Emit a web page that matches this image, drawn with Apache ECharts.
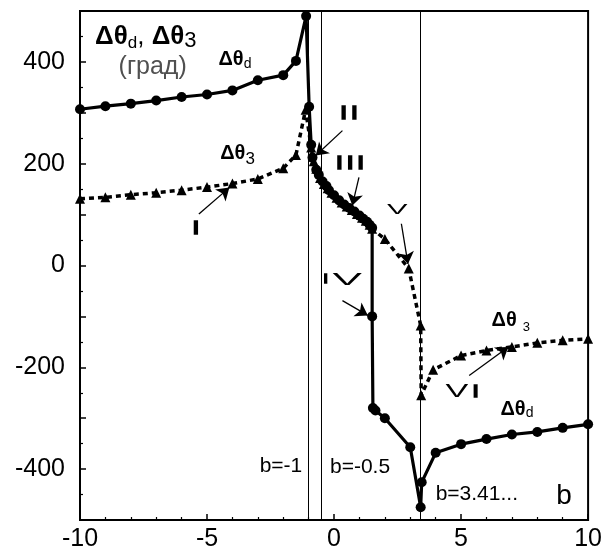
<!DOCTYPE html>
<html>
<head>
<meta charset="utf-8">
<title>delta theta vs b</title>
<script src="https://cdn.jsdelivr.net/npm/echarts@6/dist/echarts.min.js"></script>
<style>
  html, body { margin: 0; padding: 0; background: #fff; }
  #chart { width: 605px; height: 554px; }
</style>
</head>
<body>
<div id="chart"></div>
<script>
// Δθd (solid, circles): [b, degrees]
var dThetaD = [
    [-10, 307], [-9, 313], [-8, 318], [-7, 324], [-6, 331], [-5, 336], [-4, 344],
    [-3, 364], [-2, 374], [-1.5, 402], [-1.1, 490], [-0.98, 312], [-0.9, 237],
    [-0.85, 212], [-0.7, 188], [-0.6, 178], [-0.45, 165], [-0.3, 156], [-0.2, 148],
    [0, 138], [0.2, 128], [0.4, 120], [0.6, 113], [0.8, 106], [1.0, 98], [1.15, 92],
    [1.3, 86], [1.4, 80], [1.5, 74], [1.5, -100], [1.53, -280], [1.63, -285],
    [2, -300], [3, -357], [3.41, -475], [3.45, -426], [4, -368], [5, -351],
    [6, -341], [7, -332], [8, -327], [9, -319], [10, -312]
];
// Δθ3 (dotted, triangles)
var dTheta3 = [
    [-10, 131], [-9, 134], [-8, 139], [-7, 143], [-6, 148], [-5, 154], [-4, 161],
    [-3, 170], [-2, 191], [-1.5, 217], [-1.12, 306], [-0.9, 232], [-0.8, 205],
    [-0.7, 190], [-0.55, 172], [-0.4, 160], [-0.25, 152], [-0.1, 143], [0.1, 133],
    [0.3, 124], [0.5, 116], [0.7, 109], [0.9, 101], [1.1, 94], [1.25, 88],
    [1.4, 80], [1.5, 72], [2, 52], [2.94, -6], [3.41, -118], [3.43, -255],
    [3.9, -205], [5, -177], [6, -167], [7, -160], [8, -152], [9, -147], [10, -144]
];
// vertical lines b=-1, b=-0.5, b=3.41...
var boundaries = [-1, -0.5, 3.41];
var boundaryLabels = ['b=-1', 'b=-0.5', 'b=3.41...'];
// arrows from roman numerals to the curves
var arrows = [
    [[-5.32, 101], [-4.12, 153]],
    [[0.33, 265], [-0.72, 216]],
    [[0.98, 173], [0.72, 118]],
    [[0.33, -69], [1.33, -98]],
    [[2.65, 82], [2.91, 3]],
    [[5.32, -216], [6.86, -160]]
];

var FONT = 'Liberation Sans';
var chart = echarts.init(document.getElementById('chart'));

var option = {
    animation: false,
    backgroundColor: '#fff',
    grid: { left: 80, right: 15, top: 11, bottom: 34, show: true, borderColor: '#000', borderWidth: 2 },
    xAxis: {
        type: 'value', min: -10, max: 10, interval: 5,
        axisLine: { onZero: false, lineStyle: { color: '#000', width: 2 } },
        axisTick: { inside: true, length: 6, lineStyle: { color: '#000', width: 1.5 } },
        minorTick: { show: true, splitNumber: 5, length: 3, lineStyle: { color: '#000', width: 1.2 } },
        splitLine: { show: false },
        axisLabel: { color: '#000', fontFamily: FONT, fontSize: 25, margin: 7 }
    },
    yAxis: {
        type: 'value', min: -500, max: 500, interval: 100,
        axisLine: { onZero: false, lineStyle: { color: '#000', width: 2 } },
        axisTick: { inside: true, length: 6, lineStyle: { color: '#000', width: 1.5 } },
        minorTick: { show: true, splitNumber: 2, length: 3, lineStyle: { color: '#000', width: 1.2 } },
        splitLine: { show: false },
        axisLabel: {
            color: '#000', fontFamily: FONT, fontSize: 25, margin: 15,
            formatter: function (v) { return v % 200 === 0 ? String(v) : ''; }
        }
    },
    series: [
        {
            name: 'dThetaD', type: 'line', data: dThetaD, z: 3,
            symbol: 'circle', symbolSize: 10,
            itemStyle: { color: '#000' },
            lineStyle: { color: '#000', width: 3.2 },
            markLine: {
                silent: true, symbol: ['none', 'none'], label: { show: false },
                lineStyle: { color: '#000', width: 1, type: 'solid' },
                data: boundaries.map(function (b) { return { xAxis: b }; })
            }
        },
        {
            name: 'dTheta3', type: 'line', data: dTheta3, z: 2,
            symbol: 'triangle', symbolSize: 10,
            itemStyle: { color: '#000' },
            lineStyle: { color: '#000', width: 3.5, type: [5, 4] },
            markLine: {
                silent: true, symbol: ['none', 'arrow'], symbolSize: [12, 12], label: { show: false },
                lineStyle: { color: '#000', width: 1.3, type: 'solid' },
                data: arrows.map(function (a) { return [{ coord: a[0] }, { coord: a[1] }]; })
            }
        }
    ]
};
chart.setOption(option);

// text on the plot, placed in data coordinates
var RICH = {
    T: { fontFamily: FONT, fontWeight: 'bold', fontSize: 26, lineHeight: 30 },
    Td: { fontFamily: FONT, fontSize: 17, lineHeight: 14, verticalAlign: 'bottom' },
    Tc: { fontFamily: FONT, fontSize: 26, lineHeight: 30 },
    T3: { fontFamily: FONT, fontSize: 22, lineHeight: 22, verticalAlign: 'bottom' },
    m: { fontFamily: FONT, fontWeight: 'bold', fontSize: 20, lineHeight: 22 },
    d: { fontFamily: FONT, fontSize: 14, lineHeight: 12, verticalAlign: 'bottom' },
    m3: { fontFamily: FONT, fontWeight: 'bold', fontSize: 20, lineHeight: 28 },
    s3: { fontFamily: FONT, fontSize: 17, lineHeight: 16, verticalAlign: 'bottom' },
    m4: { fontFamily: FONT, fontWeight: 'bold', fontSize: 20, lineHeight: 26 },
    w3: { fontFamily: FONT, fontSize: 13, lineHeight: 12, verticalAlign: 'bottom', padding: [0, 0, 0, 6] }
};

var notes = [
    { at: [-9.41, 449], text: '{T|Δθ}{Td|d}{Tc|, }{T|Δθ}{T3|3}' },
    { at: [-7.14, 389], text: '(град)', align: 'center', size: 25, fill: '#505050' },
    { at: [-4.55, 404], text: '{m|Δθ}{d|d}' },
    { at: [-4.48, 220], text: '{m3|Δθ}{s3|3}' },
    { at: [6.2, -108], text: '{m4|Δθ}{w3|3}' },
    { at: [6.55, -282], text: '{m|Δθ}{d|d}' },
    { at: [-1.25, -394], text: boundaryLabels[0], align: 'right', size: 21 },
    { at: [-0.16, -396], text: boundaryLabels[1], size: 21 },
    { at: [4.0, -449], text: boundaryLabels[2], size: 21 },
    { at: [8.75, -453], text: 'b', size: 28 },
    // roman numerals
    { at: [-5.44, 72], text: 'I', align: 'center', size: 19, bold: true },
    { at: [0.59, 299], text: 'I I', align: 'center', size: 19, bold: true },
    { at: [0.63, 199], text: 'I I I', align: 'center', size: 19, bold: true },
    { at: [-0.33, -27], text: 'I', align: 'center', size: 12, bold: true },
    { at: [0.52, -29], text: 'V', align: 'center', size: 17, scaleX: 2.6 },
    { at: [2.49, 108], text: 'V', align: 'center', size: 14, scaleX: 2.2 },
    { at: [4.84, -249], text: 'V', align: 'center', size: 18, scaleX: 1.9 },
    { at: [5.57, -249], text: 'I', align: 'center', size: 17, bold: true }
];

var graphics = notes.map(function (n) {
    var p = chart.convertToPixel({ xAxisIndex: 0, yAxisIndex: 0 }, n.at);
    var style = {
        text: n.text, rich: RICH, fill: n.fill || '#000',
        fontFamily: FONT, fontSize: n.size || 18, fontWeight: n.bold ? 'bold' : 'normal',
        align: n.align || 'left', textAlign: n.align || 'left',
        verticalAlign: 'middle', textVerticalAlign: 'middle'
    };
    if (n.bold) { style.stroke = '#000'; style.lineWidth = 1.6; }
    return { type: 'text', x: p[0], y: p[1], scaleX: n.scaleX || 1, z: 10, silent: true, style: style };
});
chart.setOption({ graphic: graphics });
</script>
</body>
</html>
